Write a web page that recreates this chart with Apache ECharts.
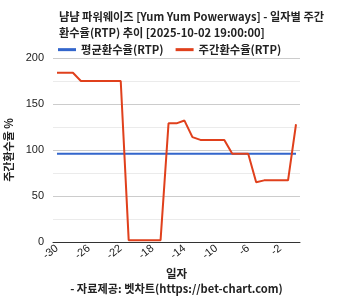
<!DOCTYPE html>
<html>
<head>
<meta charset="utf-8">
<script src="https://cdn.jsdelivr.net/npm/echarts@6/dist/echarts.min.js"></script>
<style>html,body{margin:0;padding:0;background:#fff}#c{width:353px;height:300px}</style>
</head>
<body>
<div id="c"></div>
<script>
var days = [-30,-29,-28,-27,-26,-25,-24,-23,-22,-21,-20,-19,-18,-17,-16,-15,-14,-13,-12,-11,-10,-9,-8,-7,-6,-5,-4,-3,-2,-1,0];
var weeklyRTP = [184,184,184,175,175,175,175,175,175,2,2,2,2,2,129,129,132,114,111,111,111,111,96,96,96,65,67,67,67,67,128];
var avgRTP = [96,96,96,96,96,96,96,96,96,96,96,96,96,96,96,96,96,96,96,96,96,96,96,96,96,96,96,96,96,96,96];
var titleText = '냠냠 파워웨이즈 [Yum Yum Powerways] - 일자별 주간\n환수율(RTP) 추이 [2025-10-02 19:00:00]';
var seriesNames = ['평균환수율(RTP)', '주간환수율(RTP)'];
var yTitle = '주간환수율 %';
var xTitle = '일자';
var footer = '- 자료제공: 벳차트(https://bet-chart.com)';

var font = 'Arial, "Liberation Sans", "Noto Sans CJK KR", sans-serif';
var cjk = '"Noto Sans CJK KR", sans-serif';
var chart = echarts.init(document.getElementById('c'), null, {renderer: 'canvas'});
chart.setOption({
  animation: false,
  textStyle: {fontFamily: font},
  title: [
    {text: titleText, left: 54, top: 4, textStyle: {fontSize: 11.2, fontWeight: 'bold', color: '#222', lineHeight: 16, fontFamily: cjk}},
    {text: footer, left: 'center', top: 278, textStyle: {fontSize: 11.2, fontWeight: 'bold', color: '#222', fontFamily: cjk}}
  ],
  legend: {
    left: 53, top: 39, itemWidth: 18, itemHeight: 3, itemGap: 12, icon: 'rect',
    textStyle: {fontSize: 11.3, fontWeight: 'bold', color: '#222', fontFamily: cjk},
    data: seriesNames
  },
  grid: {left: 53, right: 53, top: 58, bottom: 58, containLabel: false, outerBoundsMode: 'none'},
  xAxis: {
    type: 'category', data: days, boundaryGap: true,
    name: xTitle, nameLocation: 'middle', nameGap: 26,
    nameTextStyle: {fontSize: 11.5, fontWeight: 'bold', color: '#222', fontFamily: cjk},
    axisLine: {lineStyle: {color: '#333'}},
    axisTick: {show: false},
    axisLabel: {interval: 3, rotate: 38, fontSize: 11, color: '#222', margin: 5},
    splitLine: {show: false}
  },
  yAxis: {
    type: 'value', min: 0, max: 200, interval: 50,
    name: yTitle, nameLocation: 'middle', nameGap: 36,
    nameTextStyle: {fontSize: 11, fontWeight: 'bold', color: '#222', fontFamily: cjk},
    axisLine: {show: false}, axisTick: {show: false},
    axisLabel: {fontSize: 11, color: '#222', margin: 9},
    splitLine: {lineStyle: {color: '#cccccc'}},
    minorTick: {show: false, splitNumber: 2},
    minorSplitLine: {show: true, lineStyle: {color: '#ebebeb'}}
  },
  series: [
    {name: seriesNames[0], type: 'line', data: avgRTP, showSymbol: false, symbol: 'none', lineStyle: {width: 2, color: '#3366cc'}, itemStyle: {color: '#3366cc'}},
    {name: seriesNames[1], type: 'line', data: weeklyRTP, showSymbol: false, symbol: 'none', lineStyle: {width: 2, color: '#e0401c'}, itemStyle: {color: '#e0401c'}}
  ]
});
</script>
</body>
</html>
